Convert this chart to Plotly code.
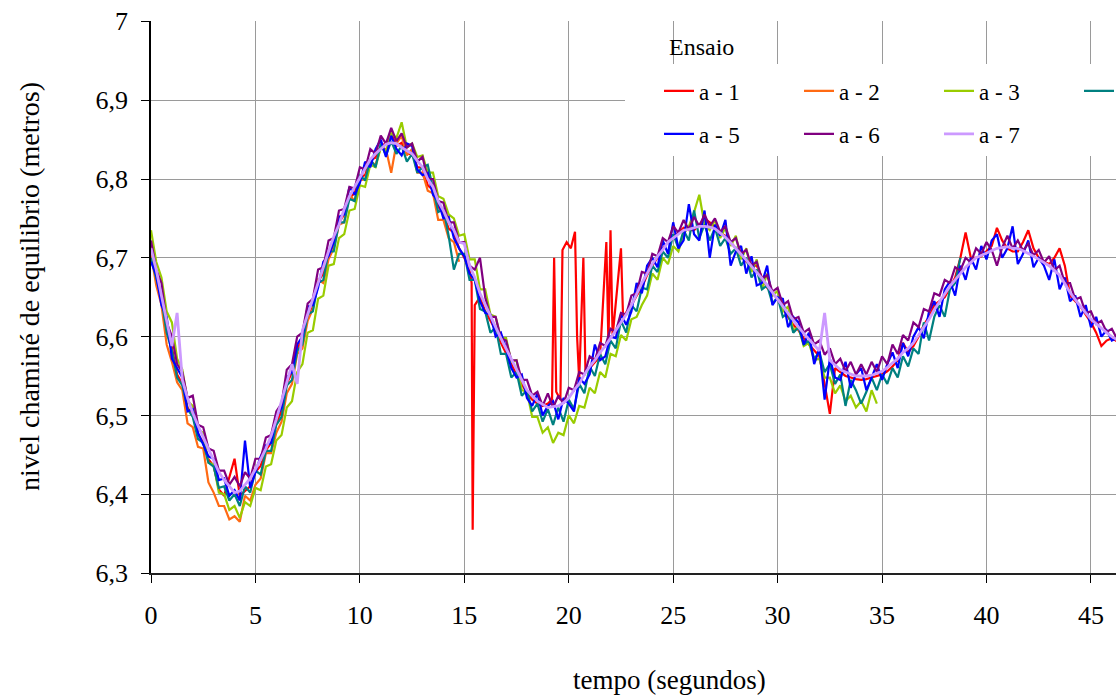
import plotly.graph_objects as go

# ---------------- data ----------------
TIME = [0.0, 0.25, 0.5, 0.75, 1.0, 1.25, 1.5, 1.75, 2.0, 2.25,
        2.5, 2.75, 3.0, 3.25, 3.5, 3.75, 4.0, 4.25, 4.5, 4.75,
        5.0, 5.25, 5.5, 5.75, 6.0, 6.25, 6.5, 6.75, 7.0, 7.25,
        7.5, 7.75, 8.0, 8.25, 8.5, 8.75, 9.0, 9.25, 9.5, 9.75,
        10.0, 10.25, 10.5, 10.75, 11.0, 11.25, 11.5, 11.75, 12.0, 12.25,
        12.5, 12.75, 13.0, 13.25, 13.5, 13.75, 14.0, 14.25, 14.5, 14.75,
        15.0, 15.25, 15.5, 15.75, 16.0, 16.25, 16.5, 16.75, 17.0, 17.25,
        17.5, 17.75, 18.0, 18.25, 18.5, 18.75, 19.0, 19.25, 19.5, 19.75,
        20.0, 20.25, 20.5, 20.75, 21.0, 21.25, 21.5, 21.75, 22.0, 22.25,
        22.5, 22.75, 23.0, 23.25, 23.5, 23.75, 24.0, 24.25, 24.5, 24.75,
        25.0, 25.25, 25.5, 25.75, 26.0, 26.25, 26.5, 26.75, 27.0, 27.25,
        27.5, 27.75, 28.0, 28.25, 28.5, 28.75, 29.0, 29.25, 29.5, 29.75,
        30.0, 30.25, 30.5, 30.75, 31.0, 31.25, 31.5, 31.75, 32.0, 32.25,
        32.5, 32.75, 33.0, 33.25, 33.5, 33.75, 34.0, 34.25, 34.5, 34.75,
        35.0, 35.25, 35.5, 35.75, 36.0, 36.25, 36.5, 36.75, 37.0, 37.25,
        37.5, 37.75, 38.0, 38.25, 38.5, 38.75, 39.0, 39.25, 39.5, 39.75,
        40.0, 40.25, 40.5, 40.75, 41.0, 41.25, 41.5, 41.75, 42.0, 42.25,
        42.5, 42.75, 43.0, 43.25, 43.5, 43.75, 44.0, 44.25, 44.5, 44.75,
        45.0, 45.25, 45.5, 45.75, 46.0, 46.25, 46.5]

# a - 1 has its own time list (denser around its spikes)
A1_T = [0.0, 0.25, 0.5, 0.75, 1.0, 1.25, 1.5, 1.75, 2.0, 2.25,
        2.5, 2.75, 3.0, 3.25, 3.5, 3.75, 4.0, 4.25, 4.5, 4.75,
        5.0, 5.25, 5.5, 5.75, 6.0, 6.25, 6.5, 6.75, 7.0, 7.25,
        7.5, 7.75, 8.0, 8.25, 8.5, 8.75, 9.0, 9.25, 9.5, 9.75,
        10.0, 10.25, 10.5, 10.75, 11.0, 11.25, 11.5, 11.75, 12.0, 12.25,
        12.5, 12.75, 13.0, 13.25, 13.5, 13.75, 14.0, 14.25, 14.5, 14.75,
        15.0, 15.25, 15.35, 15.4, 15.5, 15.75, 16.0, 16.25, 16.5, 16.75,
        17.0, 17.25, 17.5, 17.75, 18.0, 18.25, 18.5, 18.75,
        19.0, 19.2, 19.3, 19.4, 19.6, 19.7, 19.9, 20.1, 20.3, 20.4,
        20.5, 20.7, 20.8, 21.0, 21.25, 21.5, 21.8, 21.9, 22.0, 22.1,
        22.5, 22.6, 23.0, 23.25,
        23.5, 23.75, 24.0, 24.25, 24.5, 24.75, 25.0, 25.25, 25.5, 25.75,
        26.0, 26.25, 26.5, 26.75, 27.0, 27.25, 27.5, 27.75, 28.0, 28.25,
        28.5, 28.75, 29.0, 29.25, 29.5, 29.75, 30.0, 30.25, 30.5, 30.75,
        31.0, 31.25, 31.5, 31.75, 32.0, 32.25, 32.5, 32.75, 33.0, 33.25,
        33.5, 33.75, 34.0, 34.25, 34.5, 34.75, 35.0, 35.25, 35.5, 35.75,
        36.0, 36.25, 36.5, 36.75, 37.0, 37.25, 37.5, 37.75, 38.0, 38.25,
        38.5, 38.75, 39.0, 39.25, 39.5, 39.75, 40.0, 40.25, 40.5, 40.75,
        41.0, 41.25, 41.5, 41.75, 42.0, 42.25, 42.5, 42.75, 43.0, 43.25,
        43.5, 43.75, 44.0, 44.25, 44.5, 44.75, 45.0, 45.25, 45.5, 45.75,
        46.0, 46.25, 46.5]
A1 = [6.712, 6.676, 6.650, 6.608, 6.586, 6.552, 6.540, 6.510, 6.500, 6.476,
      6.466, 6.444, 6.436, 6.406, 6.398, 6.420, 6.445, 6.398, 6.404, 6.410,
      6.428, 6.436, 6.456, 6.465, 6.490, 6.506, 6.540, 6.555, 6.585, 6.597,
      6.625, 6.638, 6.670, 6.680, 6.705, 6.716, 6.745, 6.755, 6.776, 6.782,
      6.802, 6.805, 6.824, 6.827, 6.842, 6.845, 6.858, 6.842, 6.846, 6.832,
      6.832, 6.815, 6.814, 6.792, 6.786, 6.765, 6.756, 6.737, 6.732, 6.712,
      6.700, 6.685, 6.668, 6.355, 6.640, 6.650, 6.632, 6.620, 6.608, 6.592,
      6.578, 6.565, 6.552, 6.540, 6.528, 6.520, 6.515, 6.512,
      6.515, 6.520, 6.700, 6.530, 6.520, 6.710, 6.720, 6.712, 6.733, 6.600,
      6.545, 6.700, 6.555, 6.560, 6.568, 6.575, 6.720, 6.590, 6.735, 6.600,
      6.712, 6.625, 6.640, 6.652,
      6.662, 6.678, 6.690, 6.700, 6.712, 6.720, 6.728, 6.732, 6.738, 6.735,
      6.735, 6.742, 6.750, 6.745, 6.740, 6.732, 6.728, 6.720, 6.712, 6.702,
      6.695, 6.690, 6.690, 6.675, 6.662, 6.655, 6.648, 6.635, 6.625, 6.615,
      6.608, 6.598, 6.590, 6.582, 6.575, 6.540, 6.502, 6.560, 6.555, 6.550,
      6.548, 6.546, 6.545, 6.546, 6.548, 6.550, 6.552, 6.556, 6.562, 6.570,
      6.592, 6.580, 6.588, 6.600, 6.615, 6.625, 6.640, 6.645, 6.650, 6.662,
      6.675, 6.700, 6.732, 6.700, 6.700, 6.702, 6.708, 6.715, 6.738, 6.722,
      6.712, 6.708, 6.708, 6.720, 6.735, 6.712, 6.700, 6.695, 6.692, 6.700,
      6.712, 6.690, 6.652, 6.645, 6.638, 6.628, 6.618, 6.605, 6.588, 6.595,
      6.598, 6.594, 6.590]

# a - 2 (recorded up to t = 14.75 s)
A2 = [6.705, 6.665, 6.640, 6.590, 6.568, 6.542, 6.532, 6.490, 6.485, 6.460,
      6.458, 6.415, 6.402, 6.385, 6.385, 6.368, 6.372, 6.365, 6.398, 6.392,
      6.412, 6.420, 6.452, 6.452, 6.478, 6.492, 6.528, 6.540, 6.578, 6.585,
      6.620, 6.635, 6.672, 6.668, 6.698, 6.712, 6.742, 6.745, 6.780, 6.772,
      6.798, 6.800, 6.822, 6.818, 6.840, 6.838, 6.808, 6.845, 6.855, 6.830,
      6.838, 6.808, 6.808, 6.785, 6.782, 6.748, 6.748, 6.725, 6.720, 6.695]

# a - 3 (recorded up to t = 34.75 s)
A3 = [6.735, 6.695, 6.675, 6.632, 6.618, 6.572, 6.558, 6.518, 6.512, 6.482,
      6.478, 6.440, 6.438, 6.402, 6.400, 6.380, 6.385, 6.370, 6.390, 6.385,
      6.408, 6.405, 6.435, 6.438, 6.468, 6.475, 6.510, 6.518, 6.555, 6.565,
      6.605, 6.608, 6.648, 6.652, 6.690, 6.692, 6.725, 6.730, 6.760, 6.762,
      6.792, 6.790, 6.818, 6.815, 6.840, 6.835, 6.858, 6.852, 6.872, 6.840,
      6.845, 6.828, 6.830, 6.808, 6.808, 6.778, 6.775, 6.755, 6.750, 6.728,
      6.730, 6.698, 6.698, 6.660, 6.660, 6.628, 6.625, 6.598, 6.598, 6.568,
      6.570, 6.532, 6.530, 6.498, 6.498, 6.478, 6.485, 6.465, 6.478, 6.475,
      6.500, 6.490, 6.512, 6.510, 6.535, 6.528, 6.555, 6.548, 6.578, 6.575,
      6.602, 6.595, 6.622, 6.625, 6.640, 6.652, 6.680, 6.672, 6.700, 6.692,
      6.715, 6.708, 6.730, 6.740, 6.758, 6.780, 6.742, 6.735, 6.748, 6.725,
      6.738, 6.715, 6.728, 6.698, 6.712, 6.682, 6.698, 6.660, 6.680, 6.652,
      6.658, 6.632, 6.638, 6.608, 6.612, 6.588, 6.592, 6.570, 6.572, 6.548,
      6.548, 6.528, 6.538, 6.518, 6.525, 6.510, 6.518, 6.505, 6.532, 6.515]

# a - 4 (recorded up to t = 38.75 s)
A4 = [6.700, 6.672, 6.648, 6.605, 6.582, 6.548, 6.538, 6.508, 6.498, 6.470,
      6.465, 6.440, 6.435, 6.408, 6.410, 6.392, 6.400, 6.385, 6.410, 6.402,
      6.430, 6.425, 6.455, 6.455, 6.488, 6.498, 6.538, 6.545, 6.582, 6.590,
      6.628, 6.632, 6.668, 6.672, 6.708, 6.708, 6.745, 6.745, 6.775, 6.772,
      6.805, 6.798, 6.825, 6.815, 6.845, 6.830, 6.848, 6.832, 6.842, 6.822,
      6.832, 6.808, 6.815, 6.818, 6.790, 6.758, 6.762, 6.728, 6.685, 6.705,
      6.705, 6.672, 6.672, 6.635, 6.632, 6.605, 6.612, 6.578, 6.578, 6.548,
      6.555, 6.525, 6.532, 6.505, 6.515, 6.492, 6.508, 6.488, 6.510, 6.492,
      6.520, 6.508, 6.540, 6.528, 6.562, 6.550, 6.578, 6.565, 6.595, 6.585,
      6.620, 6.605, 6.640, 6.632, 6.662, 6.660, 6.690, 6.682, 6.708, 6.700,
      6.730, 6.712, 6.735, 6.722, 6.760, 6.725, 6.742, 6.722, 6.738, 6.715,
      6.725, 6.705, 6.712, 6.690, 6.700, 6.675, 6.685, 6.660, 6.665, 6.642,
      6.650, 6.625, 6.630, 6.605, 6.612, 6.590, 6.595, 6.572, 6.580, 6.555,
      6.565, 6.540, 6.552, 6.512, 6.545, 6.532, 6.515, 6.530, 6.548, 6.532,
      6.552, 6.540, 6.560, 6.548, 6.575, 6.562, 6.585, 6.578, 6.618, 6.595,
      6.625, 6.640, 6.625, 6.660, 6.668, 6.700]

A5 = [6.695, 6.678, 6.640, 6.625, 6.572, 6.560, 6.548, 6.505, 6.508, 6.478,
      6.462, 6.448, 6.445, 6.418, 6.420, 6.398, 6.405, 6.392, 6.468, 6.408,
      6.428, 6.448, 6.462, 6.465, 6.498, 6.510, 6.548, 6.555, 6.590, 6.600,
      6.638, 6.640, 6.662, 6.695, 6.702, 6.720, 6.752, 6.755, 6.790, 6.780,
      6.795, 6.822, 6.815, 6.838, 6.850, 6.828, 6.855, 6.838, 6.830, 6.845,
      6.842, 6.812, 6.805, 6.808, 6.780, 6.772, 6.750, 6.752, 6.725, 6.712,
      6.702, 6.680, 6.672, 6.645, 6.630, 6.628, 6.600, 6.605, 6.585, 6.560,
      6.548, 6.552, 6.522, 6.512, 6.528, 6.500, 6.512, 6.518, 6.495, 6.522,
      6.515, 6.505, 6.548, 6.540, 6.552, 6.590, 6.570, 6.575, 6.600, 6.598,
      6.628, 6.615, 6.632, 6.668, 6.655, 6.690, 6.700, 6.688, 6.722, 6.705,
      6.745, 6.712, 6.722, 6.768, 6.730, 6.722, 6.760, 6.700, 6.742, 6.728,
      6.748, 6.690, 6.708, 6.715, 6.680, 6.702, 6.665, 6.668, 6.690, 6.640,
      6.650, 6.648, 6.612, 6.625, 6.618, 6.590, 6.605, 6.565, 6.585, 6.520,
      6.572, 6.548, 6.545, 6.568, 6.535, 6.552, 6.560, 6.532, 6.548, 6.565,
      6.545, 6.565, 6.580, 6.560, 6.592, 6.575, 6.600, 6.612, 6.598, 6.632,
      6.645, 6.625, 6.660, 6.670, 6.652, 6.690, 6.672, 6.700, 6.685, 6.715,
      6.698, 6.722, 6.730, 6.700, 6.712, 6.740, 6.692, 6.705, 6.722, 6.688,
      6.700, 6.690, 6.672, 6.698, 6.660, 6.675, 6.645, 6.652, 6.625, 6.640,
      6.612, 6.625, 6.600, 6.608, 6.595, 6.598, 6.588]

A6 = [6.722, 6.685, 6.668, 6.618, 6.600, 6.565, 6.555, 6.522, 6.525, 6.488,
      6.485, 6.458, 6.455, 6.430, 6.430, 6.412, 6.422, 6.410, 6.428, 6.420,
      6.445, 6.445, 6.472, 6.475, 6.505, 6.515, 6.558, 6.565, 6.600, 6.605,
      6.642, 6.648, 6.685, 6.688, 6.722, 6.725, 6.760, 6.762, 6.790, 6.788,
      6.815, 6.812, 6.838, 6.832, 6.855, 6.845, 6.865, 6.848, 6.858, 6.840,
      6.845, 6.822, 6.828, 6.800, 6.800, 6.772, 6.770, 6.745, 6.745, 6.720,
      6.720, 6.690, 6.685, 6.700, 6.650, 6.625, 6.625, 6.598, 6.595, 6.570,
      6.570, 6.545, 6.545, 6.525, 6.530, 6.512, 6.528, 6.510, 6.525, 6.515,
      6.535, 6.532, 6.555, 6.552, 6.575, 6.570, 6.592, 6.588, 6.610, 6.606,
      6.630, 6.628, 6.652, 6.655, 6.682, 6.680, 6.705, 6.702, 6.725, 6.720,
      6.740, 6.732, 6.748, 6.736, 6.752, 6.740, 6.755, 6.740, 6.750, 6.733,
      6.740, 6.720, 6.725, 6.705, 6.710, 6.690, 6.695, 6.673, 6.678, 6.657,
      6.662, 6.640, 6.645, 6.622, 6.625, 6.605, 6.610, 6.590, 6.595, 6.577,
      6.585, 6.565, 6.572, 6.556, 6.568, 6.552, 6.565, 6.552, 6.568, 6.555,
      6.575, 6.565, 6.590, 6.578, 6.602, 6.595, 6.618, 6.612, 6.635, 6.632,
      6.655, 6.652, 6.672, 6.668, 6.688, 6.684, 6.700, 6.694, 6.712, 6.705,
      6.720, 6.710, 6.690, 6.713, 6.728, 6.712, 6.722, 6.709, 6.718, 6.703,
      6.710, 6.694, 6.702, 6.684, 6.690, 6.668, 6.668, 6.647, 6.650, 6.630,
      6.632, 6.616, 6.620, 6.606, 6.610, 6.597, 6.600]

A7 = [6.712, 6.685, 6.652, 6.620, 6.588, 6.630, 6.545, 6.522, 6.503, 6.487,
      6.472, 6.458, 6.443, 6.428, 6.418, 6.410, 6.402, 6.404, 6.412, 6.420,
      6.432, 6.444, 6.458, 6.474, 6.495, 6.518, 6.540, 6.565, 6.540, 6.608,
      6.628, 6.648, 6.670, 6.688, 6.708, 6.727, 6.742, 6.762, 6.778, 6.790,
      6.802, 6.813, 6.825, 6.832, 6.838, 6.844, 6.846, 6.845, 6.840, 6.836,
      6.832, 6.823, 6.815, 6.800, 6.790, 6.772, 6.760, 6.745, 6.735, 6.720,
      6.718, 6.690, 6.675, 6.655, 6.640, 6.625, 6.612, 6.598, 6.585, 6.570,
      6.558, 6.545, 6.532, 6.525, 6.518, 6.514, 6.510, 6.511, 6.512, 6.516,
      6.522, 6.532, 6.540, 6.552, 6.562, 6.570, 6.580, 6.588, 6.598, 6.608,
      6.618, 6.628, 6.640, 6.655, 6.668, 6.680, 6.692, 6.702, 6.710, 6.720,
      6.725, 6.731, 6.735, 6.736, 6.738, 6.740, 6.740, 6.739, 6.737, 6.732,
      6.726, 6.719, 6.712, 6.704, 6.697, 6.689, 6.682, 6.674, 6.665, 6.656,
      6.648, 6.639, 6.630, 6.621, 6.612, 6.604, 6.597, 6.589, 6.582, 6.630,
      6.570, 6.564, 6.558, 6.555, 6.552, 6.550, 6.550, 6.550, 6.551, 6.553,
      6.556, 6.561, 6.566, 6.572, 6.580, 6.585, 6.592, 6.602, 6.612, 6.622,
      6.634, 6.644, 6.654, 6.664, 6.672, 6.680, 6.688, 6.694, 6.700, 6.703,
      6.706, 6.710, 6.712, 6.713, 6.714, 6.712, 6.712, 6.709, 6.706, 6.702,
      6.698, 6.694, 6.690, 6.684, 6.678, 6.667, 6.656, 6.647, 6.638, 6.630,
      6.622, 6.616, 6.610, 6.605, 6.600, 6.596, 6.592]

SERIES_NAMES = ["a - 1", "a - 2", "a - 3", "a - 4", "a - 5", "a - 6", "a - 7"]
COLORS = ["#FF0000", "#FF6A13", "#99CC00", "#008080", "#0000FF", "#800080", "#CC99FF"]
Y_TICKS = [6.3, 6.4, 6.5, 6.6, 6.7, 6.8, 6.9, 7.0]
X_TICKS = [0, 5, 10, 15, 20, 25, 30, 35, 40, 45]
X_RANGE = [0, 46.2]
Y_RANGE = [6.3, 7.0005]

FONT = "Liberation Serif"

series = [
    (A1_T, A1),
    (TIME[:len(A2)], A2),
    (TIME[:len(A3)], A3),
    (TIME[:len(A4)], A4),
    (TIME[:len(A5)], A5),
    (TIME[:len(A6)], A6),
    (TIME[:len(A7)], A7),
]

fig = go.Figure()
for i, ((xs, ys), name, col) in enumerate(zip(series, SERIES_NAMES, COLORS)):
    fig.add_trace(go.Scatter(
        x=xs, y=ys, mode="lines", name=name,
        line=dict(color=col, width=2.8 if i == 6 else 2.2),
        legend="legend" if i < 4 else "legend2",
        hoverinfo="skip",
    ))

# plot area geometry (pixels)
W, H = 1116, 695
L, R, T, B = 151, 0, 21, 122
PW, PH = W - L - R, H - T - B


def px_x(p):
    return (p - L) / PW


def px_y(p):
    return 1 - (p - T) / PH


def data_x(p):
    return X_RANGE[0] + px_x(p) * (X_RANGE[1] - X_RANGE[0])


def data_y(p):
    return Y_RANGE[0] + px_y(p) * (Y_RANGE[1] - Y_RANGE[0])


legend_common = dict(
    orientation="h", xanchor="left", yanchor="middle",
    font=dict(family=FONT, size=23, color="black"),
    bgcolor="rgba(255,255,255,0)", borderwidth=0,
    entrywidth=95, entrywidthmode="pixels", traceorder="normal",
    itemclick=False, itemdoubleclick=False,
)

fig.update_layout(
    width=W, height=H,
    margin=dict(l=L, r=R, t=T, b=B, autoexpand=False),
    paper_bgcolor="white", plot_bgcolor="white",
    separators=", ",
    font=dict(family=FONT, color="black"),
    showlegend=True,
    legend=dict(x=px_x(659), y=px_y(91), **legend_common),
    legend2=dict(x=px_x(659), y=px_y(134), **legend_common),
    xaxis=dict(
        range=X_RANGE, tickvals=X_TICKS, ticks="outside", ticklen=8,
        tickwidth=1.3, tickcolor="black",
        showline=True, linecolor="#222222", linewidth=1.6,
        showgrid=True, gridcolor="#9A9A9A", gridwidth=1.3,
        zeroline=False, ticklabelstandoff=10,
        tickfont=dict(family=FONT, size=26, color="black"),
    ),
    yaxis=dict(
        range=Y_RANGE, tickvals=Y_TICKS, ticks="outside", ticklen=8,
        tickwidth=1.3, tickcolor="black",
        showline=True, linecolor="black", linewidth=1.6,
        showgrid=True, gridcolor="#9A9A9A", gridwidth=1.3,
        zeroline=False, ticklabelstandoff=8,
        tickfont=dict(family=FONT, size=26, color="black"),
    ),
    shapes=[dict(
        type="rect", xref="x", yref="y",
        x0=data_x(625), x1=data_x(1130), y0=data_y(156), y1=data_y(64),
        fillcolor="white", line=dict(width=0), layer="between",
    )],
    annotations=[
        dict(text="Ensaio", xref="paper", yref="paper", x=px_x(701), y=px_y(47),
             showarrow=False, xanchor="center", yanchor="middle",
             font=dict(family=FONT, size=24, color="black")),
        dict(text="tempo (segundos)", xref="paper", yref="paper",
             x=px_x(669), y=px_y(680), showarrow=False,
             xanchor="center", yanchor="middle",
             font=dict(family=FONT, size=27, color="black")),
        dict(text="nivel chaminé de equilibrio (metros)", xref="paper", yref="paper",
             x=px_x(30), y=px_y(287), showarrow=False, textangle=-90,
             xanchor="center", yanchor="middle",
             font=dict(family=FONT, size=28, color="black")),
    ],
)

fig.write_html("out.html", config={"displayModeBar": False},
               post_script="document.body.style.margin='0px';")
